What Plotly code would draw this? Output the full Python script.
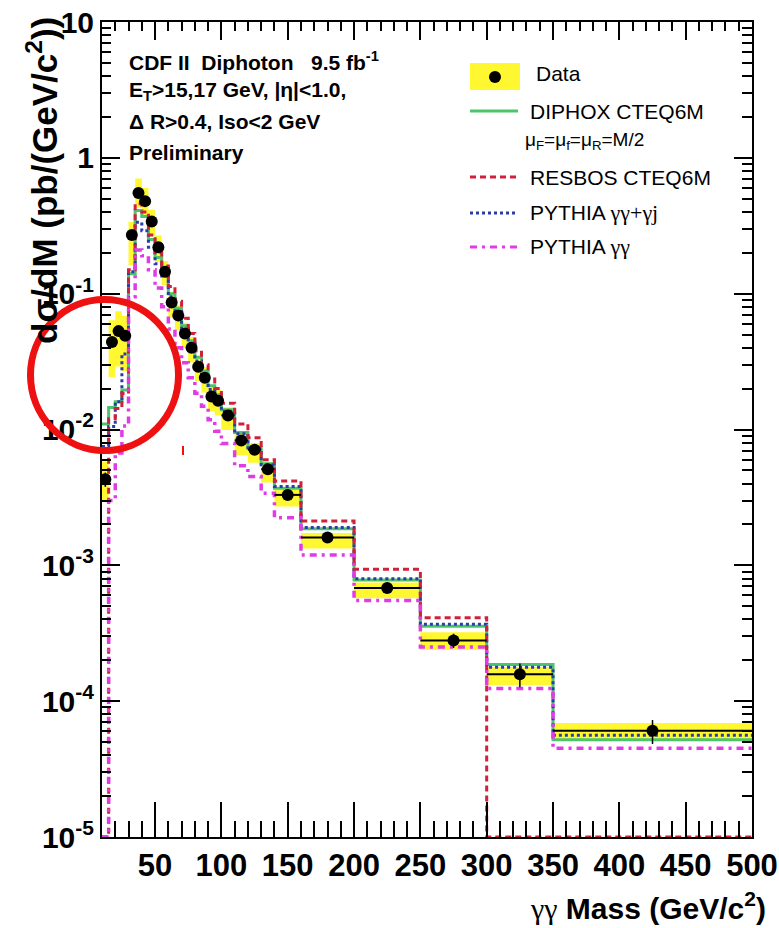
import plotly.graph_objects as go

# ---------------- data ----------------
bin_edges = [10, 15, 20, 25, 30, 35, 40, 45, 50, 55, 60, 65, 70, 75, 80, 85, 90, 95, 100,
             110, 120, 130, 140, 160, 200, 250, 300, 350, 500]

data_xsec = [0.0043, 0.044, 0.053, 0.049, 0.27, 0.55, 0.48, 0.34, 0.22, 0.145,
             0.086, 0.069, 0.051, 0.040, 0.029, 0.024, 0.0175, 0.0163,
             0.0127, 0.0083, 0.0071, 0.0051, 0.0033, 0.0016, 0.00068, 0.00028, 0.000158, 0.0000605]
stat_rel = [0.12, 0.06, 0.05, 0.05, 0.03, 0.02, 0.02, 0.02, 0.02, 0.03,
            0.03, 0.03, 0.03, 0.03, 0.04, 0.04, 0.04, 0.05,
            0.04, 0.05, 0.05, 0.06, 0.05, 0.06, 0.07, 0.12, 0.20, 0.20]
sys_up_rel = [0.35, 0.45, 0.40, 0.40, 0.25, 0.28, 0.25, 0.22, 0.22, 0.20,
              0.20, 0.20, 0.20, 0.20, 0.20, 0.20, 0.20, 0.20,
              0.15, 0.15, 0.12, 0.12, 0.10, 0.08, 0.10, 0.15, 0.13, 0.14]
sys_dn_rel = [0.30, 0.45, 0.45, 0.45, 0.40, 0.22, 0.22, 0.22, 0.22, 0.20,
              0.22, 0.22, 0.22, 0.22, 0.22, 0.22, 0.22, 0.22,
              0.22, 0.22, 0.20, 0.20, 0.18, 0.17, 0.16, 0.15, 0.17, 0.14]

diphox = [0.011, 0.0145, 0.016, 0.0195, 0.14, 0.41, 0.37, 0.25, 0.185, 0.145,
          0.100, 0.078, 0.058, 0.045, 0.034, 0.027, 0.021, 0.018,
          0.0140, 0.0095, 0.0074, 0.0056, 0.0037, 0.00186, 0.00078, 0.000356, 0.000186, 0.000052]
resbos = [1e-5, 0.012, 0.0143, 0.0184, 0.15, 0.46, 0.40, 0.27, 0.20, 0.16,
          0.113, 0.088, 0.066, 0.051, 0.038, 0.030, 0.0235, 0.020,
          0.0156, 0.011, 0.0087, 0.0060, 0.00417, 0.00212, 0.000935, 0.000412, 1e-5, 1e-5]
pythia_gg_gj = [0.0075, 0.0105, 0.016, 0.036, 0.145, 0.335, 0.29, 0.22, 0.166, 0.135,
                0.095, 0.074, 0.055, 0.043, 0.032, 0.025, 0.0197, 0.017,
                0.0136, 0.0093, 0.0073, 0.0055, 0.0038, 0.0019, 0.000795, 0.000368, 0.000178, 0.000056]
pythia_gg = [1e-5, 0.003, 0.0067, 0.0106, 0.095, 0.21, 0.19, 0.15, 0.11, 0.08,
             0.055, 0.040, 0.031, 0.024, 0.0185, 0.0148, 0.0118, 0.0097,
             0.0079, 0.0054, 0.0045, 0.0034, 0.00224, 0.00119, 0.00055, 0.000251, 0.000124, 0.000045]

x_tick_vals = [50, 100, 150, 200, 250, 300, 350, 400, 450, 500]
y_tick_vals = [1e-5, 1e-4, 1e-3, 1e-2, 1e-1, 1, 10]
y_tick_text = ["10<sup>-5</sup>", "10<sup>-4</sup>", "10<sup>-3</sup>", "10<sup>-2</sup>",
               "10<sup>-1</sup>", "1", "10"]

# ---------------- styling ----------------
YELLOW = "#fff730"
GREEN = "#4cc46c"
RED = "#d0203a"
BLUE = "#2a3ca8"
MAGENTA = "#e03ce6"
FONT = "Liberation Sans, Arial, Helvetica, sans-serif"
SERIF = "Liberation Serif, Times New Roman, serif"

W, H = 779, 928
L, R, T, B = 102, 27, 22, 91
PW, PH = W - L - R, H - T - B


def fx(px):
    return (px - L) / PW


def fy(py):
    return (H - B - py) / PH


centers = [(bin_edges[i] + bin_edges[i + 1]) / 2 for i in range(len(data_xsec))]
halfw = [(bin_edges[i + 1] - bin_edges[i]) / 2 for i in range(len(data_xsec))]

fig = go.Figure()

# systematic bands
bx, by = [], []
for i, v in enumerate(data_xsec):
    lo = v * (1 - sys_dn_rel[i])
    hi = v * (1 + sys_up_rel[i])
    e0, e1 = bin_edges[i], bin_edges[i + 1]
    bx += [e0, e1, e1, e0, e0, None]
    by += [lo, lo, hi, hi, lo, None]
fig.add_trace(go.Scatter(x=bx, y=by, fill="toself", fillcolor=YELLOW, mode="lines",
                         line=dict(width=0, color=YELLOW), showlegend=False, hoverinfo="skip"))


def step(vals, color, dash, width):
    fig.add_trace(go.Scatter(x=bin_edges, y=list(vals) + [vals[-1]], mode="lines",
                             line=dict(shape="hv", color=color, dash=dash, width=width),
                             showlegend=False, hoverinfo="skip"))


step(diphox, GREEN, "solid", 3)
step(pythia_gg_gj, BLUE, "dot", 3)
step(resbos, RED, "6px,4px", 3)
step(pythia_gg, MAGENTA, "7px,5px,3px,5px", 3.5)

# data points
fig.add_trace(go.Scatter(
    x=centers, y=data_xsec, mode="markers",
    marker=dict(color="black", size=12),
    error_x=dict(type="data", array=halfw, color="black", thickness=2, width=0),
    error_y=dict(type="data", array=[v * s for v, s in zip(data_xsec, stat_rel)],
                 color="black", thickness=1.5, width=0),
    showlegend=False, hoverinfo="skip"))

# invisible trace for the mirrored axes
fig.add_trace(go.Scatter(x=[10], y=[1e-5], xaxis="x2", yaxis="y2", mode="markers",
                         marker=dict(opacity=0), showlegend=False, hoverinfo="skip"))

y_minor = [m * 10 ** k for k in range(-5, 1) for m in range(2, 10)]

fig.update_layout(
    template="none",
    width=W, height=H,
    margin=dict(l=L, r=R, t=T, b=B, pad=0, autoexpand=False),
    paper_bgcolor="white", plot_bgcolor="white",
    font=dict(family=FONT, color="black"),
    xaxis=dict(range=[10, 500], tickmode="array", tickvals=x_tick_vals, automargin=False,
               ticks="inside", ticklen=35, tickwidth=1.5, tickcolor="black",
               showline=True, linecolor="black", linewidth=2, showgrid=False, zeroline=False,
               tickfont=dict(size=31, family=FONT, weight="bold"),
               minor=dict(tickmode="linear", tick0=0, dtick=10, ticks="inside", ticklen=16,
                          tickwidth=1.5, tickcolor="black", showgrid=False)),
    xaxis2=dict(range=[10, 500], overlaying="x", side="top", tickmode="array", automargin=False,
                tickvals=x_tick_vals, showticklabels=False,
                ticks="inside", ticklen=18, tickwidth=1.5, tickcolor="black",
                showline=True, linecolor="black", linewidth=2, showgrid=False, zeroline=False,
                minor=dict(tickmode="linear", tick0=0, dtick=10, ticks="inside", ticklen=9,
                           tickwidth=1.5, tickcolor="black", showgrid=False)),
    yaxis=dict(type="log", range=[-5, 1], tickmode="array", tickvals=y_tick_vals, automargin=False,
               ticktext=y_tick_text, ticks="inside", ticklen=18, tickwidth=1.5,
               tickcolor="black", showline=True, linecolor="black", linewidth=2,
               showgrid=False, zeroline=False,
               tickfont=dict(size=30, family=FONT, weight="bold"),
               minor=dict(tickmode="array", tickvals=y_minor, ticks="inside", ticklen=9,
                          tickwidth=1.5, tickcolor="black", showgrid=False)),
    yaxis2=dict(type="log", range=[-5, 1], overlaying="y", side="right", tickmode="array",
                automargin=False,
                tickvals=y_tick_vals, showticklabels=False, ticks="inside", ticklen=18,
                tickwidth=1.5, tickcolor="black", showline=True, linecolor="black",
                linewidth=2, showgrid=False, zeroline=False,
                minor=dict(tickmode="array", tickvals=y_minor, ticks="inside", ticklen=10,
                           tickwidth=1.5, tickcolor="black", showgrid=False)),
)

ann = []


def text(px, py, s, size, bold=False, xanchor="left", angle=0, yanchor="middle"):
    ann.append(dict(x=fx(px), y=fy(py), xref="paper", yref="paper", text=s, showarrow=False,
                    xanchor=xanchor, yanchor=yanchor, textangle=angle,
                    font=dict(size=size, family=FONT, color="black",
                              weight="bold" if bold else "normal")))


def gam(s, size=None):
    sz = f"font-size:{size}px;" if size else ""
    return f'<span style="font-family:{SERIF};font-weight:normal;{sz}">{s}</span>'


NB = "\u00a0"
text(127, 61, f"CDF II{NB}{NB}Diphoton{NB}{NB}{NB}9.5 fb<sup>-1</sup>", 21, True)
text(127, 91, "E<sub>T</sub>&gt;15,17 GeV, |η|&lt;1.0,", 21, True)
text(127, 122, f"Δ{NB}R&gt;0.4, Iso&lt;2 GeV", 21, True)
text(127, 153, "Preliminary", 21, True)

# y title
text(42, 181, "dσ/dM (pb/(GeV/c<sup>2</sup>))", 35, True, xanchor="center", angle=-90)
# x title
text(768, 906, gam("γγ", 30) + " Mass (GeV/c<sup>2</sup>)", 30, True, xanchor="right")

# legend
shapes = []
shapes.append(dict(type="rect", xref="paper", yref="paper", x0=fx(470), x1=fx(520),
                   y0=fy(90), y1=fy(63), fillcolor=YELLOW, line=dict(width=0)))
shapes.append(dict(type="circle", xref="paper", yref="paper", x0=fx(489), x1=fx(501),
                   y0=fy(83), y1=fy(71), fillcolor="black", line=dict(width=0)))
text(534, 74, "Data", 21)
leg_lines = [(111, GREEN, "solid", "DIPHOX CTEQ6M"),
             (177, RED, "6px,4px", "RESBOS CTEQ6M"),
             (213, BLUE, "dot", "PYTHIA " + gam("γγ+γj", 22)),
             (247, MAGENTA, "7px,5px,3px,5px", "PYTHIA " + gam("γγ", 22))]
for py, col, dsh, label in leg_lines:
    shapes.append(dict(type="line", xref="paper", yref="paper", x0=fx(470), x1=fx(518),
                       y0=fy(py), y1=fy(py), line=dict(color=col, dash=dsh, width=3)))
    text(528, py, label, 21)
text(523, 141, "μ<sub>F</sub>=μ<sub>f</sub>=μ<sub>R</sub>=M/2", 19)

# red highlight circle and small red mark
shapes.append(dict(type="circle", xref="paper", yref="paper", x0=fx(30.5), x1=fx(178.5),
                   y0=fy(450.5), y1=fy(299.5), line=dict(color="#ee1111", width=7),
                   layer="above"))
shapes.append(dict(type="line", xref="paper", yref="paper", x0=fx(183), x1=fx(183),
                   y0=fy(446), y1=fy(455), line=dict(color="#ee1111", width=2)))

fig.update_layout(annotations=ann, shapes=shapes)
fig.write_html("out.html")
